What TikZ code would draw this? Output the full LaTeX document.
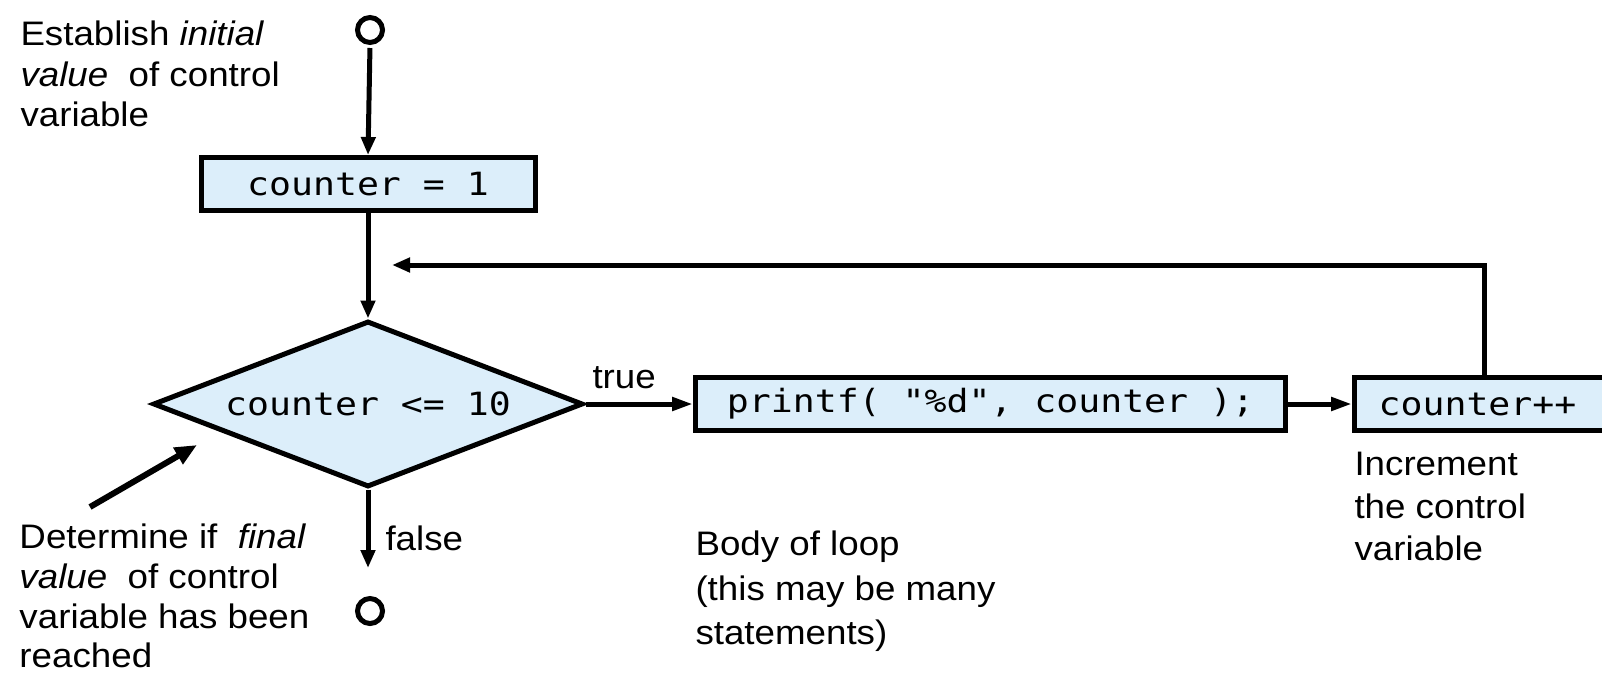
\documentclass[tikz,border=0pt]{standalone}
\usepackage{fontspec}
\setmainfont{Liberation Sans}[FakeStretch=1.08]
\setmonofont{DejaVu Sans Mono}[FakeStretch=1.14]
\usetikzlibrary{shapes.geometric,arrows.meta}
\definecolor{boxfill}{RGB}{220,238,250}
\begin{document}
\begin{tikzpicture}[x=1pt,y=-1pt,
  line width=5pt,
  txt/.style={font=\fontsize{34}{40}\selectfont, anchor=base west, inner sep=0pt},
  code/.style={font=\ttfamily\fontsize{32}{38}\selectfont},
  proc/.style={draw, fill=boxfill, line width=5pt, minimum height=53pt, inner sep=0pt, code},
  decide/.style={diamond, aspect=2.59, draw, fill=boxfill, line width=5pt, minimum width=430pt,
                 minimum height=166pt, inner sep=0pt, code},
  terminal/.style={circle, draw, line width=5pt, minimum size=25pt, inner sep=0pt},
  flow/.style={-{Triangle[length=18pt,width=14pt]}},
  smalltip/.style={-{Triangle[length=21pt,width=13pt]}},
  bigtip/.style={-{Triangle[length=22pt,width=18pt]}},
]
\useasboundingbox (0,0) rectangle (1602,680);

% flowchart nodes
\node[terminal] (start) at (370,30) {};
\node[proc, minimum width=334pt] (init) at (368,184) {counter = 1};
\node[decide] (test) at (368,404) {counter <= 10};
\node[proc, minimum width=590pt] (body) at (990.5,404) {printf( "\%d", counter );};
\node[proc, minimum width=260pt] (incr) at (1484.5,404) {counter++\hspace*{14pt}};
\node[terminal] (stop) at (370,611) {};

\coordinate (back) at (392,265);
\coordinate (exit) at (368,568);
\coordinate (dtail) at (90,507);
\coordinate (dtip) at (197,445);

% connectors
\draw[flow, shorten <=3pt] (start.south) -- (init.north);
\draw[flow] (init.south) -- (test.north);
\draw[smalltip] (test.east) -- (body.west);
\draw[smalltip] (body.east) -- (incr.west);
\draw[flow] (incr.north) |- (back);
\draw[flow] (test.south) -- (exit);
\draw[bigtip, line width=6pt] (dtail) -- (dtip);

% labels on the branches
\node[txt] (truelbl) at (590,388) {true};
\node[txt] (falselbl) at (383,550) {false};

% annotations
\node[txt] (est1) at (18,45) {Establish \textit{initial}};
\node[txt] (est2) at (18,86) {\textit{value}~ of control};
\node[txt] (est3) at (18,126) {variable};

\node[txt] (det1) at (17,548) {Determine if~ \textit{final}};
\node[txt] (det2) at (17,588) {\textit{value}~ of control};
\node[txt] (det3) at (17,628) {variable has been};
\node[txt] (det4) at (17,667) {reached};

\node[txt] (bod1) at (693,555) {Body of loop};
\node[txt] (bod2) at (693,600) {(this may be many};
\node[txt] (bod3) at (693,644) {statements)};

\node[txt] (inc1) at (1352,475) {Increment};
\node[txt] (inc2) at (1352,518) {the control};
\node[txt] (inc3) at (1352,560) {variable};
\end{tikzpicture}
\end{document}
